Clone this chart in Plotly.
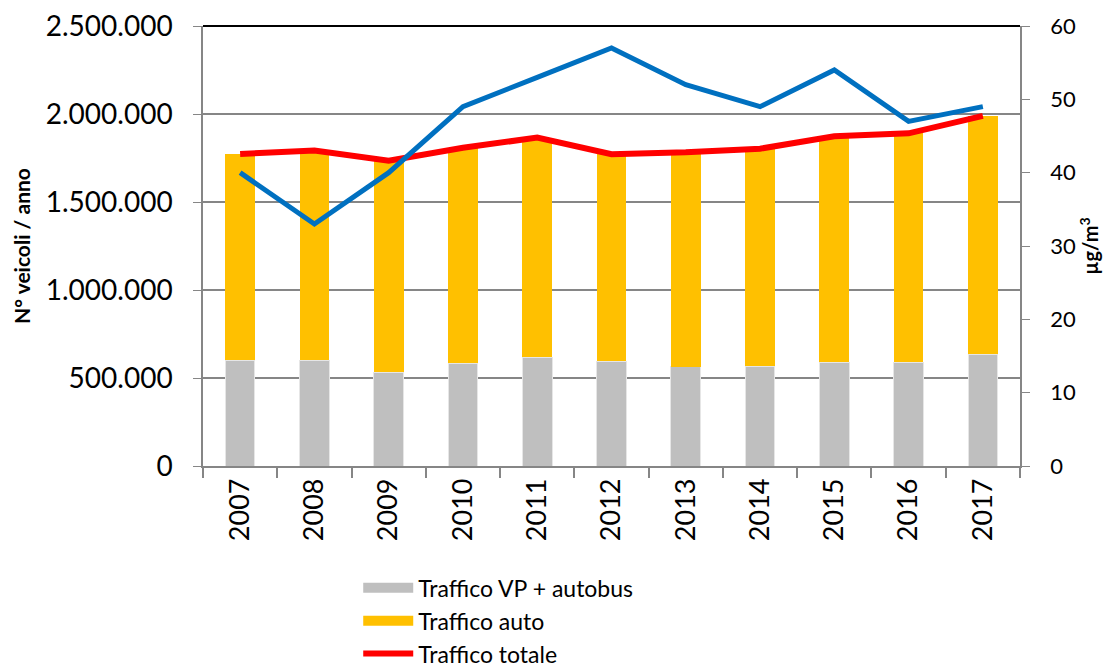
import plotly.graph_objects as go

years = ["2007", "2008", "2009", "2010", "2011", "2012", "2013", "2014", "2015", "2016", "2017"]
traffico_vp_autobus = [602000, 602000, 532000, 585000, 619000, 595000, 563000, 566000, 589000, 589000, 635000]
traffico_totale = [1773000, 1792000, 1735000, 1808000, 1866000, 1771000, 1782000, 1803000, 1873000, 1890000, 1989000]
traffico_auto = [t - v for t, v in zip(traffico_totale, traffico_vp_autobus)]
no2 = [40, 33, 40, 49, 53, 57, 52, 49, 54, 47, 49]

left_ticks = [0, 500000, 1000000, 1500000, 2000000, 2500000]
left_ticktext = ["0", "500.000", "1.000.000", "1.500.000", "2.000.000", "2.500.000"]
right_ticks = [0, 10, 20, 30, 40, 50, 60]

FONT = "Lato"
AX = "#868686"
GRAY = "#BFBFBF"
YELLOW = "#FFC000"

fig = go.Figure()
fig.add_trace(go.Bar(x=years, y=traffico_vp_autobus, name="Traffico VP + autobus",
                     marker=dict(color=GRAY, line=dict(color="#E6E6E6", width=1)),
                     showlegend=False, legendgroup="vp"))
fig.add_trace(go.Bar(x=years, y=traffico_auto, name="Traffico auto",
                     marker=dict(color=YELLOW, line=dict(width=0)),
                     showlegend=False, legendgroup="auto"))
# legend entries drawn as wide rectangles, as in the reference
fig.add_trace(go.Scatter(x=[None], y=[None], mode="lines", name="Traffico VP + autobus",
                         line=dict(color=GRAY, width=15), legendgroup="vp"))
fig.add_trace(go.Scatter(x=[None], y=[None], mode="lines", name="Traffico auto",
                         line=dict(color=YELLOW, width=15), legendgroup="auto"))
fig.add_trace(go.Scatter(x=years, y=traffico_totale, name="Traffico totale", mode="lines",
                         line=dict(color="#FF0000", width=6)))
fig.add_trace(go.Scatter(x=years, y=no2, name="NO2", mode="lines", yaxis="y2",
                         line=dict(color="#0070C0", width=5), showlegend=False))

fig.update_layout(
    width=1117, height=664,
    margin=dict(l=195, r=105, t=18, b=206, autoexpand=False),
    paper_bgcolor="white", plot_bgcolor="white",
    font=dict(family=FONT, color="black"),
    barmode="stack", bargap=0.6,
    showlegend=True,
    legend=dict(x=0.19, y=-0.228, xanchor="left", yanchor="top",
                font=dict(size=23, family=FONT), tracegroupgap=0,
                itemwidth=50, traceorder="normal"),
    xaxis=dict(type="category", tickson="boundaries", ticks="outside", ticklen=10,
               tickcolor=AX, tickwidth=1.5, showline=True, linecolor=AX, linewidth=1.5,
               tickangle=-90, tickfont=dict(size=27, family=FONT), showgrid=False,
               range=[-0.5, 10.5], automargin=False, ticklabeloverflow="allow"),
    yaxis=dict(range=[0, 2500000], tickvals=left_ticks, ticktext=left_ticktext,
               tickfont=dict(size=28, family=FONT), showgrid=True, gridcolor=AX, gridwidth=1.5,
               showline=True, linecolor=AX, linewidth=1.5, ticks="outside", ticklen=8,
               tickcolor=AX, zeroline=False, ticklabelstandoff=15, automargin=False,
               ticklabeloverflow="allow",
               title=dict(text="<b>N° veicoli / anno</b>", font=dict(size=21, family=FONT),
                          standoff=9)),
    yaxis2=dict(range=[0, 60], tickvals=right_ticks, overlaying="y", side="right",
                tickfont=dict(size=22, family=FONT), showgrid=False, showline=True,
                linecolor=AX, linewidth=1.5, ticks="outside", ticklen=8, tickcolor=AX,
                zeroline=False, ticklabelstandoff=16, automargin=False,
                ticklabeloverflow="allow",
                title=dict(text="<b>µg/m<sup>3</sup></b>", font=dict(size=20, family=FONT),
                           standoff=8)),
    shapes=[dict(type="line", xref="paper", yref="paper", x0=0, x1=1, y0=1, y1=1,
                 line=dict(color="black", width=2))],
)

fig.write_html("out.html")
